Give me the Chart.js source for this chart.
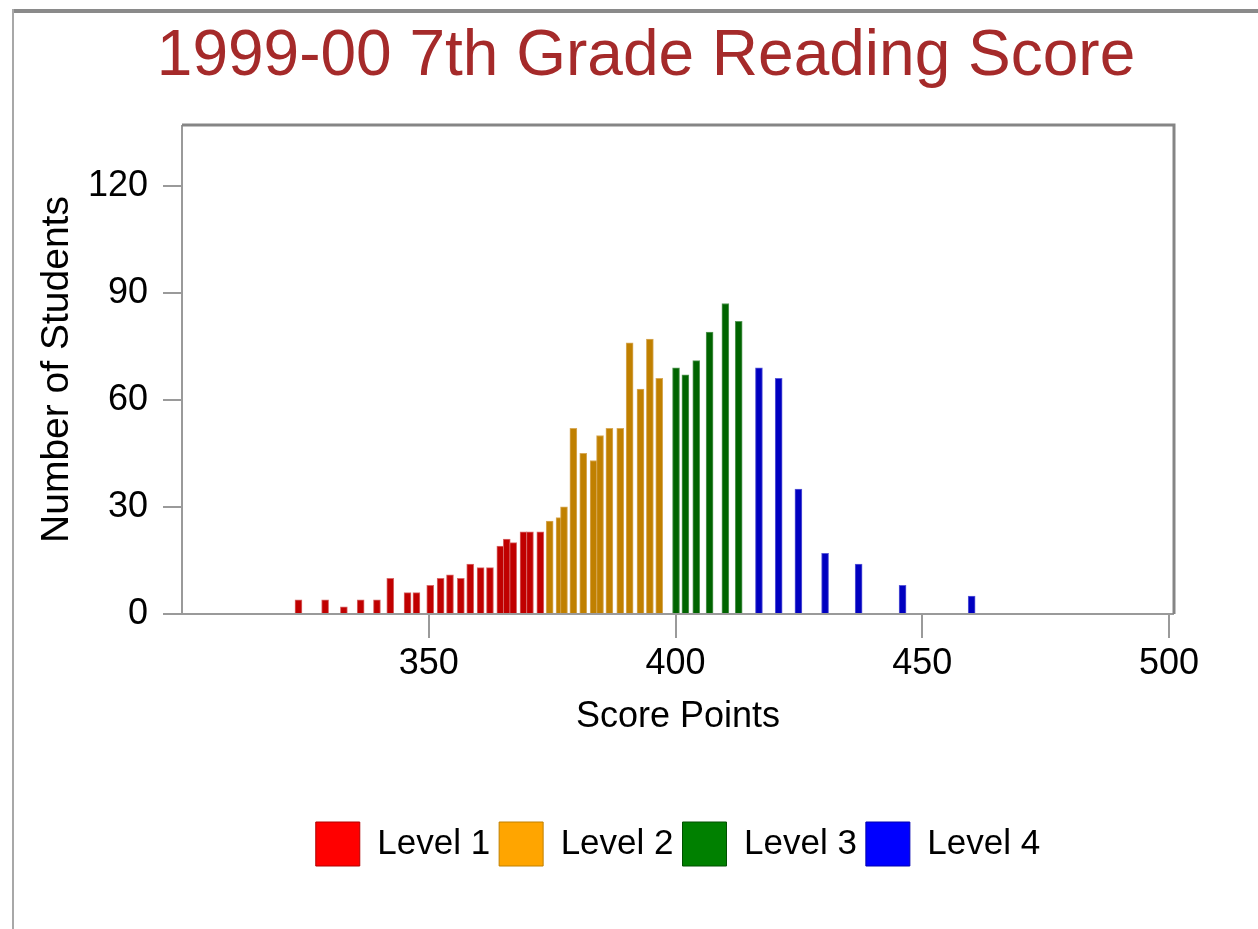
<!DOCTYPE html>
<html>
<head>
<meta charset="utf-8">
<script src="https://cdn.jsdelivr.net/npm/chart.js@4/dist/chart.umd.min.js"></script>
<style>
  html, body { margin: 0; padding: 0; background: #ffffff; }
  #wrap { position: absolute; left: 0; top: 0; width: 1258px; height: 929px; }
  #c { position: absolute; left: 0; top: 0; }
  .edge { position: absolute; }
</style>
</head>
<body>
<div id="wrap">
  <canvas id="c" width="1258" height="929"></canvas>
  <div class="edge" style="left:12px;top:9px;width:1246px;height:4px;background:#8a8a8a"></div>
  <div class="edge" style="left:12px;top:9px;width:2px;height:920px;background:#a8a8a8"></div>
</div>
<script>
// ---- data ----
const titleText = '1999-00 7th Grade Reading Score';
const xAxisTitle = 'Score Points';
const yAxisTitle = 'Number of Students';
const levelNames = ['Level 1', 'Level 2', 'Level 3', 'Level 4'];

const level1Scores = [323.6, 329.0, 332.8, 336.2, 339.5, 342.2, 345.7, 347.5, 350.3, 352.4, 354.3, 356.5, 358.4, 360.5, 362.4, 364.5, 365.8, 367.1, 369.2, 370.5, 372.6];
const level1Counts = [4, 4, 2, 4, 4, 10, 6, 6, 8, 10, 11, 10, 14, 13, 13, 19, 21, 20, 23, 23, 23];

const level2Scores = [374.5, 376.5, 377.4, 379.3, 381.3, 383.4, 384.7, 386.6, 388.8, 390.7, 392.9, 394.8, 396.7];
const level2Counts = [26, 27, 30, 52, 45, 43, 50, 52, 52, 76, 63, 77, 66];

const level3Scores = [400.1, 402.0, 404.2, 406.9, 410.1, 412.8];
const level3Counts = [69, 67, 71, 79, 87, 82];

const level4Scores = [416.9, 420.9, 424.9, 430.3, 437.1, 446.0, 460.0];
const level4Counts = [69, 66, 35, 17, 14, 8, 5];

const xTicks = [350, 400, 450, 500];
const yTicks = [0, 30, 60, 90, 120];

// ---- styles ----
const barColors = ['#c00000', '#c08000', '#006400', '#0000c0'];
const barEdges = ['#d86a6a', '#d8aa5a', '#5a9a5a', '#5a5ad8'];
const legendColors = ['#ff0000', '#ffa500', '#008000', '#0000ff'];
const legendEdges = ['#b00000', '#c08000', '#005000', '#0000b0'];
const FONT = "'Liberation Sans', Arial, sans-serif";

const scoreSets = [level1Scores, level2Scores, level3Scores, level4Scores];
const countSets = [level1Counts, level2Counts, level3Counts, level4Counts];

const datasets = levelNames.map((name, k) => ({
  label: name,
  data: scoreSets[k].map((s, i) => ({ x: s, y: countSets[k][i] })),
  backgroundColor: barColors[k],
  borderColor: barEdges[k],
  borderWidth: 1,
  grouped: false,
  barThickness: 7
}));

const framePlugin = {
  id: 'frameAndTitle',
  afterDatasetsDraw(chart) {
    const { ctx, chartArea: a } = chart;
    ctx.save();
    ctx.strokeStyle = '#9a9a9a';
    ctx.lineWidth = 2;
    ctx.beginPath();
    ctx.moveTo(a.left, a.top); ctx.lineTo(a.left, a.bottom); ctx.lineTo(a.right, a.bottom);
    ctx.stroke();
    ctx.strokeStyle = '#858585';
    ctx.lineWidth = 3;
    ctx.beginPath();
    ctx.moveTo(a.left, a.top); ctx.lineTo(a.right, a.top); ctx.lineTo(a.right, a.bottom);
    ctx.stroke();
    ctx.restore();
  },
  afterDraw(chart) {
    const ctx = chart.ctx;
    ctx.save();
    ctx.font = '64px ' + FONT;
    ctx.fillStyle = '#a52a2a';
    ctx.textAlign = 'center';
    ctx.textBaseline = 'alphabetic';
    ctx.fillText(titleText, 646, 75);
    ctx.restore();
  }
};

new Chart(document.getElementById('c'), {
  type: 'bar',
  data: { datasets },
  plugins: [framePlugin],
  options: {
    responsive: false,
    animation: false,
    devicePixelRatio: 1,
    layout: { padding: { top: 125, right: 84, left: 0, bottom: 53 } },
    plugins: {
      title: { display: false },
      tooltip: { enabled: false },
      legend: {
        display: true,
        position: 'bottom',
        fullSize: false,
        labels: {
          boxWidth: 44,
          boxHeight: 44,
          padding: 9,
          color: '#000000',
          font: { family: FONT, size: 35 },
          generateLabels: (chart) => levelNames.map((name, k) => ({
            text: name,
            fillStyle: legendColors[k],
            strokeStyle: legendEdges[k],
            lineWidth: 1,
            fontColor: '#000000',
            datasetIndex: k,
            hidden: false
          }))
        }
      }
    },
    scales: {
      x: {
        type: 'linear',
        min: 300,
        max: 501,
        offset: false,
        afterBuildTicks: (s) => { s.ticks = xTicks.map(v => ({ value: v })); },
        afterFit: (s) => { s.height = 199; },
        border: { display: false },
        grid: { display: true, offset: false, drawOnChartArea: false, drawTicks: true, tickLength: 24, color: '#9a9a9a', lineWidth: 2 },
        ticks: { color: '#000000', padding: 4, maxRotation: 0, autoSkip: false, font: { family: FONT, size: 36 } },
        title: { display: true, text: xAxisTitle, color: '#000000', font: { family: FONT, size: 36 }, padding: { top: 0, bottom: 74 } }
      },
      y: {
        min: 0,
        max: 137,
        afterBuildTicks: (s) => { s.ticks = yTicks.map(v => ({ value: v })); },
        afterFit: (s) => { s.width = 182; },
        border: { display: false },
        grid: { display: true, drawOnChartArea: false, drawTicks: true, tickLength: 19, color: '#9a9a9a', lineWidth: 2 },
        ticks: { color: '#000000', padding: 15, font: { family: FONT, size: 36 } },
        title: { display: true, text: yAxisTitle, color: '#000000', font: { family: FONT, size: 39 }, padding: { top: 34, bottom: 0 } }
      }
    }
  }
});
</script>
</body>
</html>
